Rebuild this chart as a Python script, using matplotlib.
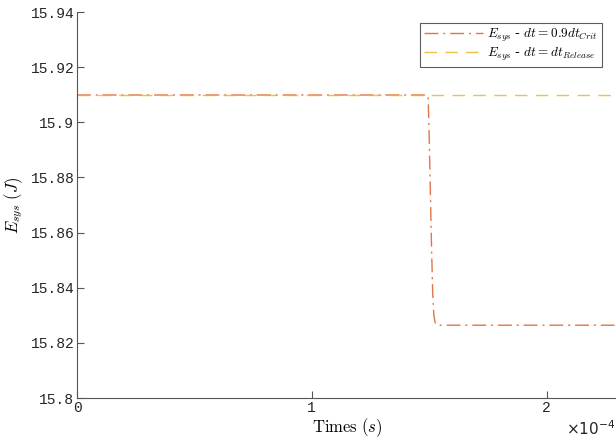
import matplotlib
matplotlib.use("Agg")
import matplotlib.pyplot as plt
from matplotlib.ticker import FuncFormatter

plt.rcParams['mathtext.fontset'] = 'cm'

# energy of the system vs time (s)
t_crit = [0, 1.49e-4, 1.4955e-4, 1.50e-4, 1.505e-4, 1.51e-4, 1.515e-4, 1.52e-4,
          1.525e-4, 1.53e-4, 1.54e-4, 2.3e-4]
e_crit = [15.9099, 15.9099, 15.9095, 15.895, 15.875, 15.855, 15.838, 15.830,
          15.8275, 15.8266, 15.8264, 15.8264]
t_release = [0, 2.3e-4]
e_release = [15.9099, 15.9099]

yticks = [15.8, 15.82, 15.84, 15.86, 15.88, 15.9, 15.92, 15.94]
ytick_labels = ['15.8', '15.82', '15.84', '15.86', '15.88', '15.9', '15.92', '15.94']
xticks = [0, 1e-4, 2e-4]

fig = plt.figure(figsize=(6.16, 4.43), dpi=100)
ax = fig.add_axes([77 / 616, 45 / 443, 540 / 616, 386 / 443])

ax.plot(t_crit, e_crit, linestyle=(0, (10, 3.5, 1.5, 3.5)), color='#D95319', lw=1.0, alpha=0.8,
        label=r'$E_{sys}$ - $dt = 0.9dt_{Crit}$')
ax.plot(t_release, e_release, linestyle=(0, (9, 6)), color='#EDB120', lw=1.0, alpha=0.8,
        label=r'$E_{sys}$ - $dt = dt_{Release}$')

ax.set_xlim(0, 2.3e-4)
ax.set_ylim(15.8, 15.94)
ax.set_yticks(yticks)
ax.set_yticklabels(ytick_labels, family='Liberation Mono', fontsize=10.5, color='#262626')
ax.set_xticks(xticks)
ax.xaxis.set_major_formatter(FuncFormatter(lambda v, _: f'{v * 1e4:g}'))
for lab in ax.get_xticklabels():
    lab.set_family('Liberation Mono')
    lab.set_fontsize(10.5)
    lab.set_color('#262626')

ax.spines['top'].set_visible(False)
ax.spines['right'].set_visible(False)
for s in ['left', 'bottom']:
    ax.spines[s].set_color('#555555')
    ax.spines[s].set_linewidth(0.8)
ax.tick_params(direction='in', length=5, width=0.8, color='#555555', pad=2)

ax.set_xlabel(r'$\mathrm{Times}\ (s)$', fontsize=12, labelpad=1)
ax.set_ylabel(r'$E_{sys}\ (J)$', fontsize=12)
ax.yaxis.set_label_coords(-52 / 540, 0.5)

fig.text(566 / 616, 8 / 443, r'$\times 10^{-4}$', fontsize=11, color='#262626',
         family='DejaVu Sans', math_fontfamily='dejavusans')

leg = ax.legend(loc='upper right', bbox_to_anchor=(602 / 616, 1 - 23 / 443),
                bbox_transform=fig.transFigure, fontsize=9.5, frameon=True,
                fancybox=False, borderpad=0.3, handlelength=4.5, handletextpad=0.3,
                labelspacing=0.1, borderaxespad=0)
leg.get_frame().set_edgecolor('#333333')
leg.get_frame().set_linewidth(0.8)

fig.savefig('out.png', dpi=100)
